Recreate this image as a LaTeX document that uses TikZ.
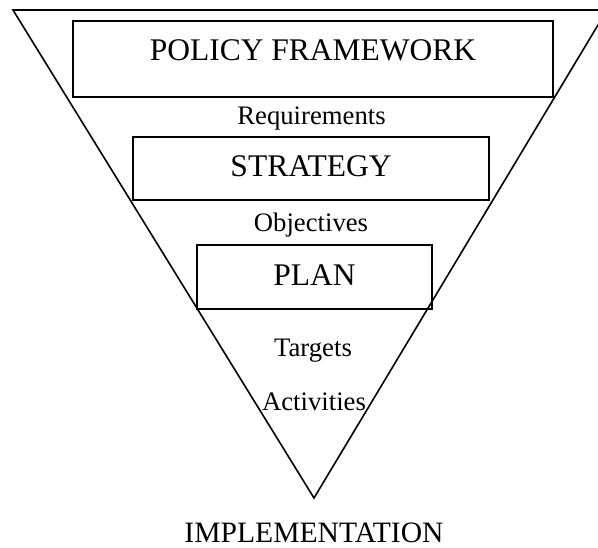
\documentclass[tikz,border=0pt]{standalone}
\usepackage{fontspec}
\setmainfont{Liberation Serif}
\begin{document}
\begin{tikzpicture}[x=1pt,y=-1pt,
  levelbox/.style={draw, line width=2pt, inner sep=0pt, font=\fontsize{31.5}{31.5}\selectfont},
  small/.style={anchor=base, inner sep=0pt, font=\fontsize{26.7}{26.7}\selectfont},
  big/.style={anchor=base, inner sep=0pt, font=\fontsize{29.6}{29.6}\selectfont}]
\useasboundingbox (0,0) rectangle (598,548);
\clip (0,0) rectangle (598,548);
\coordinate (tl) at (13,10);
\coordinate (tr) at (607,10);
\coordinate (apex) at (314,498);
\draw[line width=1.6pt, line join=miter] (tl) -- (tr) -- (apex) -- cycle;
\node[levelbox, anchor=base, minimum width=480pt, text height=40pt, text depth=36pt] (policy) at (313,61) {POLICY FRAMEWORK};
\node[levelbox, anchor=base, minimum width=356pt, text height=40pt, text depth=23pt] (strategy) at (311,177) {STRATEGY};
\node[levelbox, anchor=base, minimum width=235pt, text height=41pt, text depth=23pt] (plan) at (314.5,286) {PLAN};
\node[small] (req) at (311.5,125) {Requirements};
\node[small] (obj) at (311,232) {Objectives};
\node[small] (tar) at (313,357) {Targets};
\node[small] (act) at (314,411) {Activities};
\node[big] (impl) at (314,543) {IMPLEMENTATION};
\end{tikzpicture}
\end{document}
